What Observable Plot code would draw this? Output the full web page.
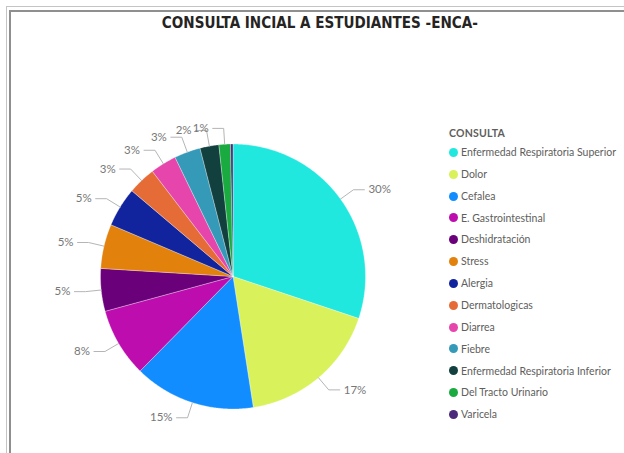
<!DOCTYPE html>
<html>
<head>
<meta charset="utf-8">
<script src="https://cdn.jsdelivr.net/npm/d3@7"></script>
<script src="https://cdn.jsdelivr.net/npm/@observablehq/plot@0.6"></script>
<style>
  html, body { margin: 0; padding: 0; background: #fff; }
  #wrap { position: relative; width: 624px; height: 453px; overflow: hidden; background: #fff; }
  .frame1 { position: absolute; left: 6px; top: 6px; width: 700px; height: 600px; border-top: 1px solid #c4c4c4; border-left: 1px solid #c4c4c4; }
  .frame2 { position: absolute; left: 9px; top: 10px; width: 700px; height: 600px; border-top: 2px solid #8f8f8f; border-left: 2px solid #8f8f8f; }
  #title { position: absolute; left: 0; top: 13px; width: 640px; text-align: center; white-space: nowrap;
    font-family: "DejaVu Sans", sans-serif; font-stretch: condensed; font-weight: bold; font-size: 16px; color: #252423; }
  #title span { display: inline-block; transform-origin: center; }
  #chart { position: absolute; left: 0; top: 0; }
  #legend { position: absolute; left: 0; top: 0; width: 624px; height: 453px; pointer-events: none;
    font-family: "Lato", sans-serif; color: #605e5c; }
  .lg-title { position: absolute; left: 449px; top: 127px; font-size: 10.5px; font-weight: 700; color: #605e5c; letter-spacing: 0.2px; }
  .lg-item { position: absolute; left: 449px; height: 14px; line-height: 14px; font-size: 10.5px; white-space: nowrap; }
  .lg-dot { display: inline-block; width: 9px; height: 9px; border-radius: 50%; vertical-align: middle; margin-right: 3px; position: relative; top: -1px; }
</style>
</head>
<body>
<div id="wrap">
  <div class="frame1"></div>
  <div class="frame2"></div>
  <div id="chart"></div>
  <div id="title"><span>CONSULTA INCIAL A ESTUDIANTES -ENCA-</span></div>
  <div id="legend"></div>
</div>
<script>
const legendTitle = "CONSULTA";
const categories = [
  "Enfermedad Respiratoria Superior",
  "Dolor",
  "Cefalea",
  "E. Gastrointestinal",
  "Deshidratación",
  "Stress",
  "Alergia",
  "Dermatologicas",
  "Diarrea",
  "Fiebre",
  "Enfermedad Respiratoria Inferior",
  "Del Tracto Urinario",
  "Varicela"
];
const values = [30.1, 17.4, 14.8, 8.4, 5.2, 5.4, 4.8, 3.4, 3.2, 3.2, 2.3, 1.4, 0.3];
const percentLabels = ["30%", "17%", "15%", "8%", "5%", "5%", "5%", "3%", "3%", "3%", "2%", "1%", ""];
const colors = [
  "#20E8DF", "#D9F15A", "#118DFF", "#BE0DAF", "#6B007B", "#E2810C", "#12239E",
  "#E66C37", "#E645AB", "#3599B8", "#11403F", "#1AAB40", "#4B2A7A"
];

const total = d3.sum(values);
const slicePts = [];
const leaderPts = [];
const labelsRight = [];
const labelsLeft = [];
let acc = 0;
const R_ELBOW = 1.12;
const HSEG = 0.083;
categories.forEach((key, i) => {
  const a0 = acc / total * 2 * Math.PI;
  acc += values[i];
  const a1 = acc / total * 2 * Math.PI;
  const n = Math.max(2, Math.ceil((a1 - a0) / (Math.PI / 360)));
  slicePts.push({key, x: 0, y: 0});
  for (let k = 0; k <= n; k++) {
    const t = a0 + (a1 - a0) * k / n;
    slicePts.push({key, x: Math.sin(t), y: Math.cos(t)});
  }
  slicePts.push({key, x: 0, y: 0});
  if (percentLabels[i]) {
    const m = (a0 + a1) / 2;
    const side = Math.sin(m) >= 0 ? 1 : -1;
    const ex = R_ELBOW * Math.sin(m), ey = R_ELBOW * Math.cos(m);
    leaderPts.push({key, x: Math.sin(m), y: Math.cos(m)});
    leaderPts.push({key, x: ex, y: ey});
    leaderPts.push({key, x: ex + side * HSEG, y: ey});
    const lab = {x: ex + side * HSEG, y: ey, text: percentLabels[i]};
    (side > 0 ? labelsRight : labelsLeft).push(lab);
  }
});

const chart = Plot.plot({
  width: 624,
  height: 453,
  margin: 0,
  style: {background: "transparent", overflow: "visible"},
  x: {domain: [-1, 1], range: [100, 365], axis: null},
  y: {domain: [-1, 1], range: [408.5, 143.5], axis: null},
  color: {domain: categories, range: colors},
  marks: [
    Plot.line(slicePts, {x: "x", y: "y", z: "key", fill: "key", stroke: "#ffffff", strokeWidth: 0.5, strokeOpacity: 0.6, curve: "linear"}),
    Plot.line(leaderPts, {x: "x", y: "y", z: "key", stroke: "#b5b5b5", strokeWidth: 1, curve: "linear"}),
    Plot.text(labelsRight, {x: "x", y: "y", text: "text", textAnchor: "start", dx: 4, fill: "#777777", fontSize: 11.5, fontFamily: "Lato, sans-serif"}),
    Plot.text(labelsLeft, {x: "x", y: "y", text: "text", textAnchor: "end", dx: -4, fill: "#777777", fontSize: 11.5, fontFamily: "Lato, sans-serif"})
  ]
});
document.getElementById("chart").appendChild(chart);

// Title fit
const span = document.querySelector("#title span");
const w = span.getBoundingClientRect().width;
span.style.transform = `scaleX(${316 / w})`;

// Legend
const lg = document.getElementById("legend");
const t = document.createElement("div");
t.className = "lg-title";
t.textContent = legendTitle;
lg.appendChild(t);
categories.forEach((c, i) => {
  const it = document.createElement("div");
  it.className = "lg-item";
  it.style.top = (152 - 7 + i * 21.85) + "px";
  const dot = document.createElement("span");
  dot.className = "lg-dot";
  dot.style.background = colors[i];
  it.appendChild(dot);
  it.appendChild(document.createTextNode(c));
  lg.appendChild(it);
});
</script>
</body>
</html>
